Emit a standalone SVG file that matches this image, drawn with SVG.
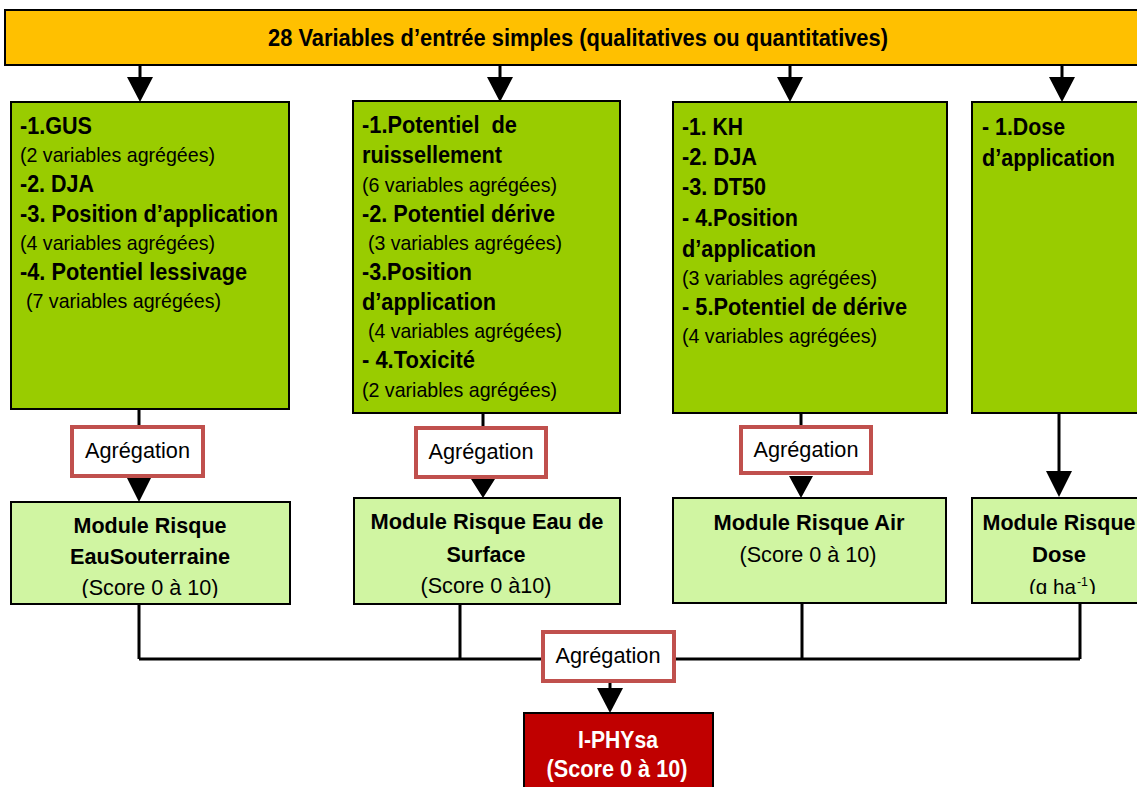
<svg xmlns="http://www.w3.org/2000/svg" width="1137" height="787" viewBox="0 0 1137 787">
<style>
  .box { stroke: #000; stroke-width: 2; }
  .title { fill: #FFC000; }
  .green { fill: #99CC00; }
  .module { fill: #D0F5A2; }
  .final { fill: #C00000; }
  .agg { fill: #fff; stroke: #C0504D; stroke-width: 4; }
  text { font-family: "Liberation Sans", Arial, sans-serif; fill: #000; }
  .b { font-weight: bold; font-size: 23px; }
  .n { font-size: 21px; }
  .m { font-size: 22px; text-anchor: middle; }
  .mb { font-size: 22px; font-weight: bold; text-anchor: middle; }
  .ag { font-size: 22px; text-anchor: middle; }
  .w { fill: #fff; font-weight: bold; font-size: 23px; text-anchor: middle; }
  .line { stroke: #000; stroke-width: 3; fill: none; }
  .head { fill: #000; }
</style>
<defs>
  <clipPath id="c1"><rect x="12" y="503" width="277" height="95"/></clipPath>
  <clipPath id="c4"><rect x="973" y="499" width="164" height="95"/></clipPath>
</defs>

<g id="title">
  <rect class="box title" x="5" y="10" width="1140" height="55"/>
  <text class="b" x="578" y="46" text-anchor="middle" textLength="620" lengthAdjust="spacingAndGlyphs">28 Variables d’entrée simples (qualitatives ou quantitatives)</text>
</g>

<g id="connectors">
  <path class="line" d="M140 65V78M500 65V78M790 65V78M1062 65V78"/>
  <path class="head" d="M127 77H153L140 102ZM487 77H513L500 102ZM777 77H803L790 102ZM1049 77H1075L1062 102Z"/>
  <path class="line" d="M139 409V427M483 413V428M801 413V427"/>
  <path class="head" d="M127 478H151L139 502ZM471 479H495L483 498ZM789 476H813L801 498Z"/>
  <path class="line" d="M1059 413V472"/>
  <path class="head" d="M1046 471H1072L1059 497Z"/>
  <path class="line" d="M139 604V659M460 604V659M802 603V659M1080 603V659M139 659H1080"/>
  <path class="line" d="M610 683V689"/>
  <path class="head" d="M597 688H623L610 713Z"/>
</g>

<g id="box-gus">
  <rect class="box green" x="11" y="102" width="278" height="307"/>
  <text class="b" x="20" y="134" textLength="72" lengthAdjust="spacingAndGlyphs">-1.GUS</text>
  <text class="n" x="20" y="162" textLength="195" lengthAdjust="spacingAndGlyphs">(2 variables agrégées)</text>
  <text class="b" x="20" y="192" textLength="74" lengthAdjust="spacingAndGlyphs">-2. DJA</text>
  <text class="b" x="20" y="222" textLength="258" lengthAdjust="spacingAndGlyphs">-3. Position d’application</text>
  <text class="n" x="20" y="250" textLength="195" lengthAdjust="spacingAndGlyphs">(4 variables agrégées)</text>
  <text class="b" x="20" y="280" textLength="227" lengthAdjust="spacingAndGlyphs">-4. Potentiel lessivage</text>
  <text class="n" x="26" y="308" textLength="195" lengthAdjust="spacingAndGlyphs">(7 variables agrégées)</text>
</g>

<g id="box-surface">
  <rect class="box green" x="353" y="101" width="267" height="312"/>
  <text class="b" x="362" y="133" textLength="155" lengthAdjust="spacingAndGlyphs" xml:space="preserve">-1.Potentiel  de</text>
  <text class="b" x="362" y="163" textLength="140" lengthAdjust="spacingAndGlyphs">ruissellement</text>
  <text class="n" x="362" y="192" textLength="195" lengthAdjust="spacingAndGlyphs">(6 variables agrégées)</text>
  <text class="b" x="362" y="222" textLength="193" lengthAdjust="spacingAndGlyphs">-2. Potentiel dérive</text>
  <text class="n" x="368" y="250" textLength="194" lengthAdjust="spacingAndGlyphs">(3 variables agrégées)</text>
  <text class="b" x="362" y="280" textLength="110" lengthAdjust="spacingAndGlyphs">-3.Position</text>
  <text class="b" x="362" y="310" textLength="134" lengthAdjust="spacingAndGlyphs">d’application</text>
  <text class="n" x="368" y="338" textLength="194" lengthAdjust="spacingAndGlyphs">(4 variables agrégées)</text>
  <text class="b" x="362" y="368" textLength="113" lengthAdjust="spacingAndGlyphs">- 4.Toxicité</text>
  <text class="n" x="362" y="397" textLength="195" lengthAdjust="spacingAndGlyphs">(2 variables agrégées)</text>
</g>

<g id="box-air">
  <rect class="box green" x="673" y="102" width="274" height="311"/>
  <text class="b" x="682" y="135" textLength="61" lengthAdjust="spacingAndGlyphs">-1. KH</text>
  <text class="b" x="682" y="165" textLength="75" lengthAdjust="spacingAndGlyphs">-2. DJA</text>
  <text class="b" x="682" y="195" textLength="84" lengthAdjust="spacingAndGlyphs">-3. DT50</text>
  <text class="b" x="682" y="226" textLength="116" lengthAdjust="spacingAndGlyphs">- 4.Position</text>
  <text class="b" x="682" y="257" textLength="134" lengthAdjust="spacingAndGlyphs">d’application</text>
  <text class="n" x="682" y="285" textLength="195" lengthAdjust="spacingAndGlyphs">(3 variables agrégées)</text>
  <text class="b" x="682" y="315" textLength="225" lengthAdjust="spacingAndGlyphs">- 5.Potentiel de dérive</text>
  <text class="n" x="682" y="343" textLength="195" lengthAdjust="spacingAndGlyphs">(4 variables agrégées)</text>
</g>

<g id="box-dose">
  <rect class="box green" x="972" y="102" width="180" height="311"/>
  <text class="b" x="982" y="135" textLength="83" lengthAdjust="spacingAndGlyphs">- 1.Dose</text>
  <text class="b" x="982" y="166" textLength="133" lengthAdjust="spacingAndGlyphs">d’application</text>
</g>

<g id="agg-1">
  <rect class="agg" x="72" y="427" width="131" height="49"/>
  <text class="ag" x="137.5" y="458" textLength="105" lengthAdjust="spacingAndGlyphs">Agrégation</text>
</g>
<g id="agg-2">
  <rect class="agg" x="416" y="428" width="130" height="49"/>
  <text class="ag" x="481" y="459" textLength="105" lengthAdjust="spacingAndGlyphs">Agrégation</text>
</g>
<g id="agg-3">
  <rect class="agg" x="741" y="427" width="130" height="46"/>
  <text class="ag" x="806" y="457" textLength="105" lengthAdjust="spacingAndGlyphs">Agrégation</text>
</g>

<g id="module-eau-souterraine">
  <rect class="box module" x="11" y="502" width="279" height="102"/>
  <g clip-path="url(#c1)">
    <text class="mb" x="150" y="533" textLength="153" lengthAdjust="spacingAndGlyphs">Module Risque</text>
    <text class="mb" x="150" y="564" textLength="160" lengthAdjust="spacingAndGlyphs">EauSouterraine</text>
    <text class="m" x="150" y="595" textLength="137" lengthAdjust="spacingAndGlyphs">(Score 0 à 10)</text>
  </g>
</g>

<g id="module-eau-surface">
  <rect class="box module" x="354" y="498" width="266" height="106"/>
  <text class="mb" x="487" y="529" textLength="233" lengthAdjust="spacingAndGlyphs">Module Risque Eau de</text>
  <text class="mb" x="486" y="562" textLength="79" lengthAdjust="spacingAndGlyphs">Surface</text>
  <text class="m" x="486" y="593" textLength="131" lengthAdjust="spacingAndGlyphs">(Score 0 à10)</text>
</g>

<g id="module-air">
  <rect class="box module" x="673" y="498" width="273" height="105"/>
  <text class="mb" x="809" y="530" textLength="191" lengthAdjust="spacingAndGlyphs">Module Risque Air</text>
  <text class="m" x="808" y="562" textLength="137" lengthAdjust="spacingAndGlyphs">(Score 0 à 10)</text>
</g>

<g id="module-dose">
  <rect class="box module" x="972" y="498" width="180" height="105"/>
  <g clip-path="url(#c4)">
    <text class="mb" x="1059" y="530" textLength="153" lengthAdjust="spacingAndGlyphs">Module Risque</text>
    <text class="mb" x="1059" y="562" textLength="54" lengthAdjust="spacingAndGlyphs">Dose</text>
    <text class="n" x="1029" y="594" textLength="47" lengthAdjust="spacingAndGlyphs">(g ha</text>
    <text x="1077" y="586" font-size="13" textLength="11" lengthAdjust="spacingAndGlyphs">-1</text>
    <text class="n" x="1089" y="594" textLength="7" lengthAdjust="spacingAndGlyphs">)</text>
  </g>
</g>

<g id="agg-final">
  <rect class="agg" x="543" y="632" width="131" height="49"/>
  <text class="ag" x="608" y="663" textLength="105" lengthAdjust="spacingAndGlyphs">Agrégation</text>
</g>

<g id="iphysa">
  <rect class="box final" x="524" y="713" width="189" height="80"/>
  <text class="w" x="618" y="748" textLength="80" lengthAdjust="spacingAndGlyphs">I-PHYsa</text>
  <text class="w" x="617" y="777" textLength="141" lengthAdjust="spacingAndGlyphs">(Score 0 à 10)</text>
</g>
</svg>
